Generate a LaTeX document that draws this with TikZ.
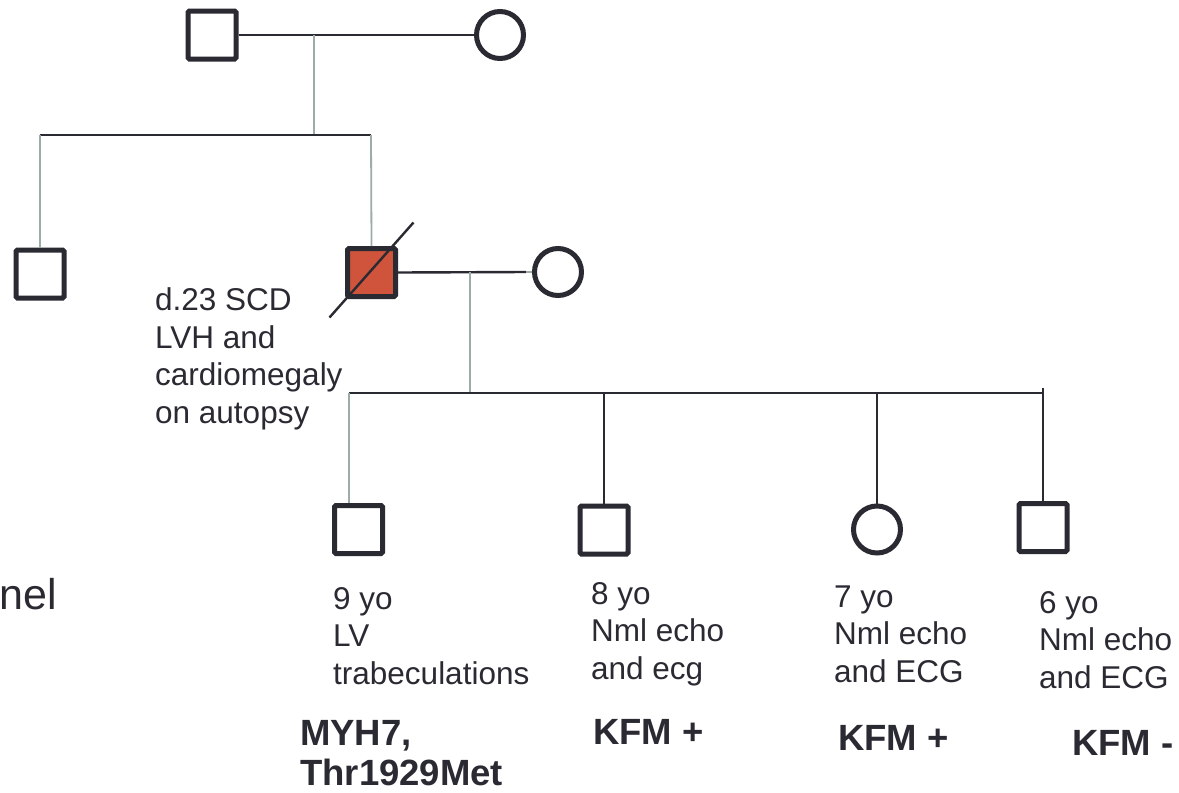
\documentclass[tikz,border=0pt]{standalone}
\usepackage{fontspec}
\setmainfont{Liberation Sans}
\usepackage{xcolor}
\definecolor{ink}{HTML}{2A2A33}
\definecolor{stem}{HTML}{9DADA3}
\definecolor{lesion}{HTML}{D0543C}
\usepackage{tikz}
\usetikzlibrary{positioning,calc}

\begin{document}
\begin{tikzpicture}[x=1pt,y=-1pt,
  male/.style={rectangle,draw=ink,fill=white,line width=5pt,rounded corners=1.5pt,
    minimum size=48pt,inner sep=0pt},
  female/.style={circle,draw=ink,fill=white,line width=5pt,minimum size=47pt,inner sep=0pt},
  note/.style={anchor=base west,align=left,inner sep=0pt,text=ink,
    font=\fontsize{31.5}{37.5}\selectfont},
  result/.style={anchor=base west,align=left,inner sep=0pt,text=ink,
    font=\fontsize{36.5}{40}\selectfont\bfseries},
  mate/.style={draw=ink,line width=2.4pt},
  kin/.style={draw=stem,line width=1.8pt},
  sib/.style={draw=ink,line width=2.6pt}]
  \useasboundingbox[fill=white] (0,0) rectangle (1179,793);
  % grandparents
  \node[male] (gpa) at (212,35) {};
  \node[female] (gma) at (500,35) {};
  \coordinate (gjoin) at (314,35);
  \coordinate (gsib) at (314,135);
  \coordinate (gsibl) at (40,135);
  \coordinate (gsibr) at (371,135);
  \draw[mate] (gpa) -- (gma);
  \draw[kin] (gjoin) -- (gsib);
  \draw[sib] (gsibl) -- (gsibr);
  % second generation
  \node[male] (uncle) at (40,274) {};
  \node[male,fill=lesion] (dad) at (371.5,272.5) {};
  \node[female] (mom) at (558,272) {};
  \draw[kin] (gsibl) -- (uncle.north);
  \draw[kin] (gsibr) -- (dad.north);
  \draw[mate] ([shift={(-42,45)}]dad.center) -- ([shift={(42,-50)}]dad.center);
  \coordinate (pjoin) at (470,272);
  \coordinate (pgap) at (526,272);
  \draw[mate] (dad.east) -- (pgap);
  \draw[kin] (pgap) -- (mom.west);
  % base of a multi-line note is its last line
  \node[note] (dadnote) at (155,423) {d.23 SCD\\LVH and\\cardiomegaly\\on autopsy};
  \node[anchor=base west,inner sep=0pt,text=ink,font=\fontsize{43}{48}\selectfont] (cut) at (-1,609) {nel};
  % children
  \coordinate (psib) at (470,393);
  \coordinate (sib1) at (349,393);
  \coordinate (sib2) at (604,393);
  \coordinate (sib3) at (877,393);
  \coordinate (sib4) at (1043,393);
  \coordinate (tick4) at (1043,388);
  \draw[kin] (pjoin) -- (psib);
  \draw[sib] (sib1) -- (sib4);
  \node[male] (kid1) at (358.5,529.5) {};
  \node[male] (kid2) at (604,530) {};
  \node[female] (kid3) at (877,529.5) {};
  \node[male] (kid4) at (1043,527.5) {};
  \draw[kin] (sib1) -- (sib1 |- kid1.north);
  \draw[mate] (sib2) -- (kid2.north);
  \draw[mate] (sib3) -- (kid3.north);
  \draw[mate] (tick4) -- (kid4.north);
  \node[note] (age1) at (333,684) {9 yo\\LV\\trabeculations};
  \node[note] (age2) at (591,679) {8 yo\\Nml echo\\and ecg};
  \node[note] (age3) at (834,682) {7 yo\\Nml echo\\and ECG};
  \node[note] (age4) at (1039,688) {6 yo\\Nml echo\\and ECG};
  \node[result] (gene1) at (300,785) {MYH7,\\Thr1929Met};
  \node[result] (gene2) at (593,744) {KFM +};
  \node[result] (gene3) at (838,750) {KFM +};
  \node[result] (gene4) at (1072,755) {KFM -};
\end{tikzpicture}
\end{document}
